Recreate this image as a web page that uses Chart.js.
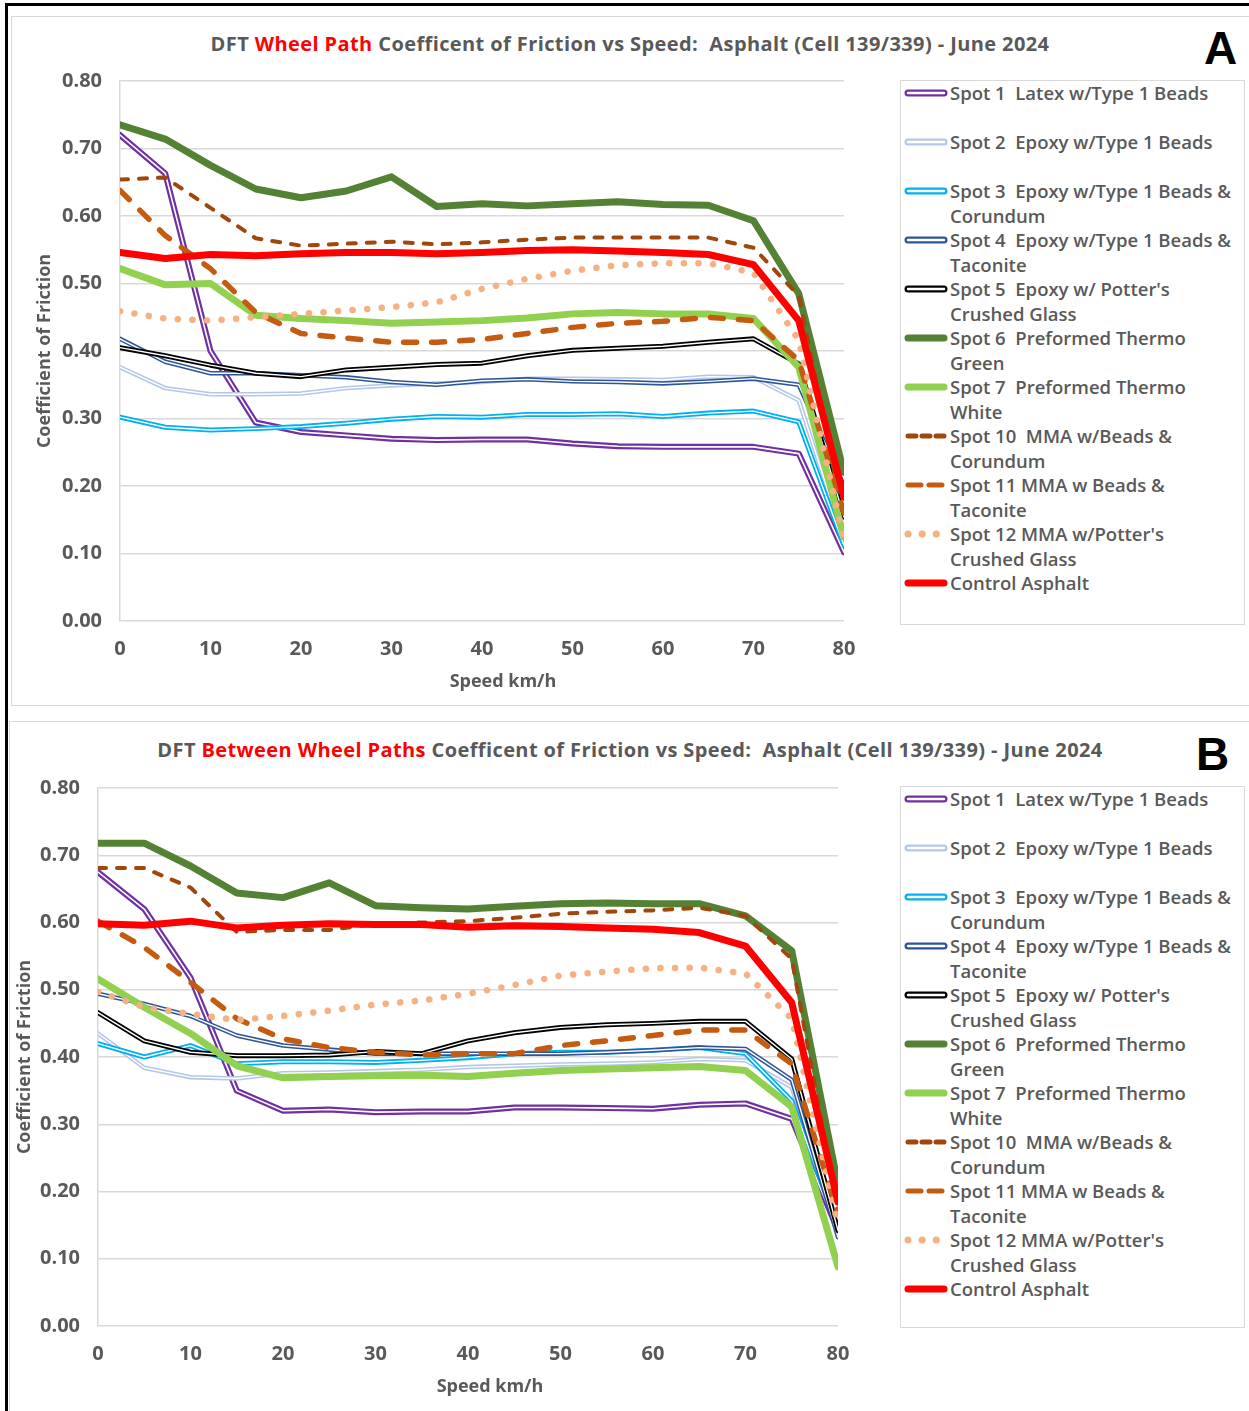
<!DOCTYPE html>
<html>
<head>
<meta charset="utf-8">
<title>DFT Coefficient of Friction vs Speed</title>
<script src="https://cdn.jsdelivr.net/npm/chart.js@4.4.0/dist/chart.umd.min.js"></script>
<style>
  body { margin: 0; background: #fff; font-family: 'Open Sans', sans-serif; }
  #page { position: relative; width: 1249px; height: 1411px; overflow: hidden; }
  .frame { position: absolute; left: 5px; top: 3px; width: 1300px; height: 1500px; border-left: 3px solid #000; border-top: 3px solid #000; }
  .panel { position: absolute; border: 1.5px solid #d9d9d9; background: #fff; }
  .title { position: absolute; left: 0; width: 1260px; text-align: center; font-weight: 700; font-size: 20px; letter-spacing: 0.4px; line-height: 24px; color: #595959; white-space: pre; }
  .title .hl { color: #ff0000; }
  .xtitle { position: absolute; width: 300px; text-align: center; font-weight: 700; font-size: 18px; line-height: 24px; color: #595959; }
  .tag { position: absolute; font-family: 'Liberation Sans', Arial, sans-serif; font-weight: 700; font-size: 46px; line-height: 46px; color: #000; }
  .chartbox { position: absolute; width: 885px; height: 649px; }
  .legend { position: absolute; border: 1.5px solid #d9d9d9; width: 345px; box-sizing: border-box; }
  .legend .item { position: relative; height: 49px; }
  .legend svg { position: absolute; left: 2px; top: 6px; }
  .legend .txt { position: absolute; left: 49px; top: 0; font-size: 18.5px; font-weight: 600; color: #595959; line-height: 24.5px; white-space: pre; }
</style>
</head>
<body>
<div id="page">
  <div class="frame"></div>

  <div class="panel" style="left:11px; top:16px; width:1300px; height:688px;"></div>
  <div class="title" style="top:32px;">DFT <span class="hl">Wheel Path</span> Coefficent of Friction vs Speed:  Asphalt (Cell 139/339) - June 2024</div>
  <div class="tag" style="left:1204px; top:25px;">A</div>
  <div class="chartbox" style="left:12px; top:51px;"><canvas id="wheelChart"></canvas></div>
  <div class="xtitle" style="left:353px; top:668px;">Speed km/h</div>
  <div class="legend" id="wheelLegend" style="left:900px; top:80px; height:545px;"></div>

  <div class="panel" style="left:9px; top:721px; width:1300px; height:800px;"></div>
  <div class="title" style="top:738px;">DFT <span class="hl">Between Wheel Paths</span> Coefficent of Friction vs Speed:  Asphalt (Cell 139/339) - June 2024</div>
  <div class="tag" style="left:1196px; top:731px;">B</div>
  <div class="chartbox" style="left:10px; top:758px;"><canvas id="betweenChart"></canvas></div>
  <div class="xtitle" style="left:340px; top:1373px;">Speed km/h</div>
  <div class="legend" id="betweenLegend" style="left:900px; top:786px; height:542px;"></div>
</div>

<script>
// speeds (km/h)
const speeds = [0, 5, 10, 15, 20, 25, 30, 35, 40, 45, 50, 55, 60, 65, 70, 75, 80];

const seriesLabels = [
  ['Spot 1  Latex w/Type 1 Beads'],
  ['Spot 2  Epoxy w/Type 1 Beads'],
  ['Spot 3  Epoxy w/Type 1 Beads &', 'Corundum'],
  ['Spot 4  Epoxy w/Type 1 Beads &', 'Taconite'],
  ["Spot 5  Epoxy w/ Potter's", 'Crushed Glass'],
  ['Spot 6  Preformed Thermo', 'Green'],
  ['Spot 7  Preformed Thermo', 'White'],
  ['Spot 10  MMA w/Beads &', 'Corundum'],
  ['Spot 11 MMA w Beads &', 'Taconite'],
  ["Spot 12 MMA w/Potter's", 'Crushed Glass'],
  ['Control Asphalt']
];

// A - wheel path
const wheelSpot1 = [0.720, 0.663, 0.400, 0.294, 0.280, 0.275, 0.270, 0.268, 0.269, 0.269, 0.263, 0.259, 0.258, 0.258, 0.258, 0.248, 0.102];
const wheelSpot2 = [0.376, 0.345, 0.336, 0.336, 0.337, 0.345, 0.349, 0.352, 0.354, 0.359, 0.359, 0.358, 0.357, 0.362, 0.361, 0.327, 0.120];
const wheelSpot3 = [0.302, 0.287, 0.283, 0.285, 0.288, 0.293, 0.299, 0.303, 0.302, 0.306, 0.306, 0.307, 0.303, 0.308, 0.311, 0.295, 0.112];
const wheelSpot4 = [0.418, 0.384, 0.367, 0.367, 0.364, 0.361, 0.354, 0.350, 0.356, 0.358, 0.355, 0.354, 0.352, 0.355, 0.359, 0.350, 0.200];
const wheelSpot5 = [0.405, 0.393, 0.379, 0.367, 0.362, 0.372, 0.376, 0.380, 0.382, 0.393, 0.401, 0.404, 0.407, 0.413, 0.418, 0.381, 0.154];
const wheelSpot6 = [0.735, 0.714, 0.675, 0.640, 0.627, 0.637, 0.658, 0.614, 0.618, 0.615, 0.618, 0.621, 0.617, 0.616, 0.593, 0.485, 0.220];
const wheelSpot7 = [0.522, 0.498, 0.500, 0.453, 0.448, 0.445, 0.441, 0.443, 0.445, 0.449, 0.455, 0.457, 0.455, 0.455, 0.448, 0.376, 0.124];
const wheelSpot10 = [0.654, 0.657, 0.612, 0.567, 0.556, 0.559, 0.562, 0.558, 0.561, 0.565, 0.568, 0.568, 0.568, 0.568, 0.553, 0.482, 0.150];
const wheelSpot11 = [0.638, 0.571, 0.522, 0.457, 0.426, 0.419, 0.413, 0.413, 0.417, 0.426, 0.435, 0.441, 0.444, 0.450, 0.445, 0.386, 0.160];
const wheelSpot12 = [0.459, 0.448, 0.445, 0.450, 0.455, 0.460, 0.465, 0.472, 0.492, 0.507, 0.519, 0.527, 0.530, 0.530, 0.516, 0.416, 0.120];
const wheelControl = [0.546, 0.537, 0.543, 0.541, 0.544, 0.546, 0.546, 0.544, 0.546, 0.549, 0.550, 0.548, 0.546, 0.543, 0.528, 0.445, 0.183];

// B - between wheel paths
const betweenSpot1 = [0.675, 0.620, 0.518, 0.350, 0.320, 0.322, 0.318, 0.319, 0.319, 0.325, 0.325, 0.324, 0.323, 0.329, 0.331, 0.308, 0.142];
const betweenSpot2 = [0.435, 0.384, 0.370, 0.368, 0.376, 0.377, 0.379, 0.381, 0.385, 0.387, 0.389, 0.390, 0.392, 0.397, 0.395, 0.355, 0.140];
const betweenSpot3 = [0.420, 0.400, 0.417, 0.390, 0.393, 0.393, 0.392, 0.395, 0.399, 0.405, 0.407, 0.407, 0.410, 0.414, 0.405, 0.335, 0.145];
const betweenSpot4 = [0.494, 0.479, 0.461, 0.432, 0.417, 0.411, 0.405, 0.405, 0.405, 0.405, 0.405, 0.407, 0.410, 0.414, 0.412, 0.366, 0.132];
const betweenSpot5 = [0.466, 0.424, 0.407, 0.402, 0.402, 0.403, 0.408, 0.405, 0.424, 0.436, 0.444, 0.448, 0.450, 0.453, 0.453, 0.397, 0.142];
const betweenSpot6 = [0.718, 0.718, 0.684, 0.644, 0.637, 0.659, 0.625, 0.622, 0.620, 0.624, 0.628, 0.629, 0.628, 0.628, 0.610, 0.558, 0.210];
const betweenSpot7 = [0.516, 0.474, 0.435, 0.387, 0.369, 0.371, 0.372, 0.373, 0.371, 0.376, 0.380, 0.382, 0.384, 0.386, 0.380, 0.326, 0.088];
const betweenSpot10 = [0.681, 0.681, 0.652, 0.586, 0.589, 0.589, 0.598, 0.600, 0.602, 0.607, 0.613, 0.616, 0.618, 0.622, 0.610, 0.546, 0.170];
const betweenSpot11 = [0.602, 0.563, 0.511, 0.457, 0.427, 0.414, 0.407, 0.403, 0.405, 0.405, 0.417, 0.424, 0.432, 0.440, 0.440, 0.390, 0.167];
const betweenSpot12 = [0.497, 0.474, 0.464, 0.455, 0.461, 0.469, 0.478, 0.484, 0.494, 0.507, 0.521, 0.527, 0.532, 0.533, 0.524, 0.457, 0.150];
const betweenControl = [0.598, 0.596, 0.602, 0.592, 0.596, 0.598, 0.597, 0.597, 0.593, 0.595, 0.594, 0.592, 0.590, 0.585, 0.565, 0.481, 0.184];

// line look for each series (same order as seriesLabels)
const seriesStyles = [
  { color: '#7030a0', width: 6, inner: 1.6 },
  { color: '#b4c7e7', width: 4.5, inner: 1.4 },
  { color: '#00b0f0', width: 5, inner: 1.4 },
  { color: '#2f5597', width: 4.5, inner: 1.4 },
  { color: '#000000', width: 5, inner: 1.4 },
  { color: '#548235', width: 7 },
  { color: '#92d050', width: 7 },
  { color: '#9e480e', width: 4, dash: [8, 11] },
  { color: '#c55a11', width: 5.5, dash: [13, 15] },
  { color: '#f4b183', width: 6.5, dash: [0.1, 14.5] },
  { color: '#ff0000', width: 7 }
];

const textColor = '#595959';
Chart.defaults.font.family = "'Open Sans', sans-serif";

function legendSample(st) {
  let s = '<svg width="46" height="12">';
  if (st.inner) {
    s += `<line x1="5" y1="6" x2="41" y2="6" stroke="${st.color}" stroke-width="7" stroke-linecap="round"/>`;
    s += `<line x1="5" y1="6" x2="41" y2="6" stroke="#fff" stroke-width="2.4" stroke-linecap="round"/>`;
  } else if (st.dash) {
    const w = st.dash[0] < 1 ? 7 : 5;
    const da = st.dash[0] < 1 ? '0.1 14' : (st.dash[0] < 10 ? '8 6' : '13 8');
    s += `<line x1="5" y1="6" x2="44" y2="6" stroke="${st.color}" stroke-width="${w}" stroke-linecap="round" stroke-dasharray="${da}"/>`;
  } else {
    s += `<line x1="5" y1="6" x2="41" y2="6" stroke="${st.color}" stroke-width="7" stroke-linecap="round"/>`;
  }
  return s + '</svg>';
}

function renderLegend(legendId) {
  const box = document.getElementById(legendId);
  box.innerHTML = seriesLabels.map((lines, i) =>
    `<div class="item">${legendSample(seriesStyles[i])}<div class="txt">${lines.join('\n')}</div></div>`
  ).join('');
}

function renderFrictionChart(canvasId, seriesValues, fit) {
  const n = seriesValues.length;
  const datasets = [];
  seriesValues.forEach((vals, i) => {
    const st = seriesStyles[i];
    const pts = speeds.map((s, k) => ({ x: s, y: vals[k] }));
    datasets.push({
      label: seriesLabels[i].join(' '),
      data: pts,
      borderColor: st.color,
      borderWidth: st.width,
      borderDash: st.dash || [],
      borderCapStyle: 'round',
      borderJoinStyle: 'round',
      pointRadius: 0,
      order: (n - i) * 2
    });
    // white core for the double (compound) lines
    if (st.inner) {
      datasets.push({
        label: '',
        data: pts,
        borderColor: '#ffffff',
        borderWidth: st.inner,
        borderCapStyle: 'round',
        borderJoinStyle: 'round',
        pointRadius: 0,
        order: (n - i) * 2 - 1
      });
    }
  });

  const tickFont = { size: 20, weight: 'bold' };
  const titleFont = { size: 18, weight: 'bold' };

  return new Chart(document.getElementById(canvasId).getContext('2d'), {
    type: 'line',
    data: { datasets: datasets },
    options: {
      responsive: true,
      maintainAspectRatio: false,
      animation: false,
      layout: { padding: { left: 0, top: 12, right: fit.padRight, bottom: 0 } },
      plugins: { legend: { display: false }, tooltip: { enabled: false } },
      scales: {
        x: {
          type: 'linear', min: 0, max: 80,
          ticks: { stepSize: 10, padding: 16, color: textColor, font: tickFont, maxRotation: 0 },
          grid: { display: false, drawTicks: false },
          border: { display: false },
          afterFit: (scale) => { scale.height = fit.xHeight; }
        },
        y: {
          min: 0, max: 0.8,
          ticks: { stepSize: 0.1, padding: 18, color: textColor, font: tickFont, callback: (v) => v.toFixed(2) },
          grid: { color: '#d9d9d9', lineWidth: 1.5, drawTicks: false },
          border: { display: true, color: '#d9d9d9', width: 1.5 },
          title: { display: true, text: 'Coefficient of Friction', color: textColor, font: titleFont, padding: { top: fit.yTitlePad, bottom: 0 } },
          afterFit: (scale) => { scale.width = fit.yWidth; }
        }
      }
    }
  });
}

try {
  renderLegend('wheelLegend');
  renderFrictionChart('wheelChart',
    [wheelSpot1, wheelSpot2, wheelSpot3, wheelSpot4, wheelSpot5, wheelSpot6, wheelSpot7, wheelSpot10, wheelSpot11, wheelSpot12, wheelControl],
    { yWidth: 108, padRight: 53, xHeight: 79, yTitlePad: 22 });
} catch (e) {
  console.log('Wheel path chart skipped:', e);
}

try {
  renderLegend('betweenLegend');
  renderFrictionChart('betweenChart',
    [betweenSpot1, betweenSpot2, betweenSpot3, betweenSpot4, betweenSpot5, betweenSpot6, betweenSpot7, betweenSpot10, betweenSpot11, betweenSpot12, betweenControl],
    { yWidth: 88, padRight: 57, xHeight: 81, yTitlePad: 4 });
} catch (e) {
  console.log('Between wheel paths chart skipped:', e);
}
</script>
</body>
</html>
